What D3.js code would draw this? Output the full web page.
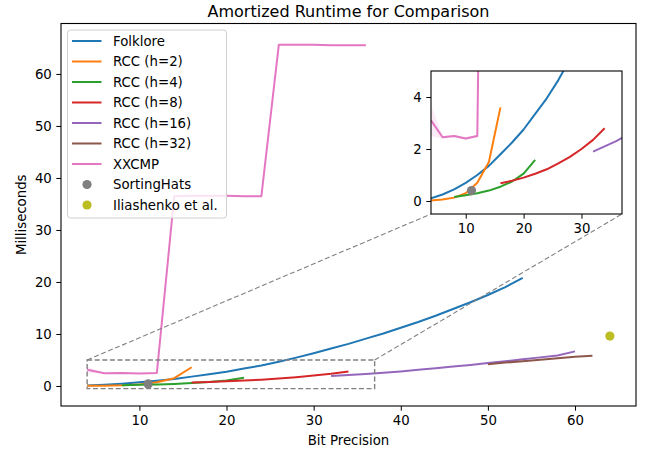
<!DOCTYPE html>
<html>
<head>
<meta charset="utf-8">
<script src="https://cdn.jsdelivr.net/npm/d3@7"></script>
<style>
  body { margin: 0; background: #fff; }
  text { font-family: "DejaVu Sans", sans-serif; fill: #000; }
</style>
</head>
<body>
<div id="chart"></div>
<script>
// ---- data ----
var folkloreX = [4, 6, 8, 10, 12, 14, 16, 18, 20, 22, 24, 26, 28, 30, 32, 34, 36, 38, 40, 42, 44, 46, 48, 50, 52, 54];
var folkloreY = [0.1, 0.25, 0.45, 0.7, 1.0, 1.35, 1.8, 2.25, 2.75, 3.35, 3.95, 4.65, 5.45, 6.3, 7.2, 8.1, 9.1, 10.1, 11.2, 12.3, 13.5, 14.8, 16.1, 17.5, 19.0, 20.8];

var rcc2X = [4, 6, 8, 10, 12, 14, 16];
var rcc2Y = [0.02, 0.06, 0.13, 0.3, 0.7, 1.5, 3.6];

var rcc4X = [8, 10, 12, 14, 16, 18, 20, 22];
var rcc4Y = [0.15, 0.22, 0.3, 0.4, 0.55, 0.75, 1.05, 1.58];

var rcc8X = [16, 18, 20, 22, 24, 26, 28, 30, 32, 34];
var rcc8Y = [0.68, 0.78, 0.9, 1.05, 1.22, 1.45, 1.7, 2.0, 2.35, 2.8];

var rcc16X = [32, 34, 36, 38, 40, 42, 44, 46, 48, 50, 52, 54, 56, 58, 60];
var rcc16Y = [1.9, 2.1, 2.3, 2.55, 2.8, 3.1, 3.4, 3.75, 4.05, 4.4, 4.75, 5.15, 5.5, 5.85, 6.65];

var rcc32X = [50, 52, 54, 56, 58, 60, 62];
var rcc32Y = [4.2, 4.5, 4.75, 5.05, 5.35, 5.6, 5.8];

var xxcmpX = [4, 6, 8, 10, 12, 14, 16, 18, 20, 22, 24, 26, 28, 30, 32, 34, 36];
var xxcmpY = [3.1, 2.45, 2.5, 2.4, 2.5, 36.5, 36.6, 36.6, 36.6, 36.5, 36.5, 65.6, 65.6, 65.6, 65.5, 65.5, 65.5];
// spread of the XXCMP runs (only visible at the first points)
var xxcmpErr = [0.6, 0.05, 0.05, 0.05, 0.05, 0.1, 0.1, 0.1, 0.1, 0.1, 0.1, 0.1, 0.1, 0.1, 0.1, 0.1, 0.1];

var sortingHats = [11, 0.4];
var iliashenko = [64, 9.6];

var mainXTicks = [10, 20, 30, 40, 50, 60];
var mainYTicks = [0, 10, 20, 30, 40, 50, 60];
var insetXTicks = [10, 20, 30];
var insetYTicks = [0, 2, 4];

var width = 649;
var height = 453;

function zipXY(xs, ys) {
  return xs.map(function(x, i) { return [x, ys[i]]; });
}

var series = [
  { name: "Folklore", color: "#1f77b4", pts: zipXY(folkloreX, folkloreY) },
  { name: "RCC (h=2)", color: "#ff7f0e", pts: zipXY(rcc2X, rcc2Y) },
  { name: "RCC (h=4)", color: "#2ca02c", pts: zipXY(rcc4X, rcc4Y) },
  { name: "RCC (h=8)", color: "#d62728", pts: zipXY(rcc8X, rcc8Y) },
  { name: "RCC (h=16)", color: "#9467bd", pts: zipXY(rcc16X, rcc16Y) },
  { name: "RCC (h=32)", color: "#8c564b", pts: zipXY(rcc32X, rcc32Y) },
  { name: "XXCMP", color: "#e377c2", pts: zipXY(xxcmpX, xxcmpY) }
];
var dots = [
  { name: "SortingHats", color: "#7f7f7f", pt: sortingHats },
  { name: "Iliashenko et al.", color: "#bcbd22", pt: iliashenko }
];

var svg = d3.select("#chart")
  .append("svg")
  .attr("width", width)
  .attr("height", height);

// main axes box
var plot = { left: 61, right: 636, top: 23.5, bottom: 406 };
var xScale = d3.scaleLinear().domain([1, 67]).range([plot.left, plot.right]);
var yScale = d3.scaleLinear().domain([-3.85, 69.7]).range([plot.bottom, plot.top]);

// inset axes box
var ins = { left: 431, right: 622, top: 71, bottom: 214 };
var ixScale = d3.scaleLinear().domain([4, 37]).range([ins.left, ins.right]);
var iyScale = d3.scaleLinear().domain([-0.5, 5]).range([ins.bottom, ins.top]);

var defs = svg.append("defs");
defs.append("clipPath").attr("id", "clipMain")
  .append("rect")
  .attr("x", plot.left).attr("y", plot.top)
  .attr("width", plot.right - plot.left).attr("height", plot.bottom - plot.top);
defs.append("clipPath").attr("id", "clipInset")
  .append("rect")
  .attr("x", ins.left).attr("y", ins.top)
  .attr("width", ins.right - ins.left).attr("height", ins.bottom - ins.top);

// draws all the series into a group with the given scales
function drawSeries(g, xs, ys) {
  var line = d3.line()
    .x(function(d) { return xs(d[0]); })
    .y(function(d) { return ys(d[1]); });

  var band = d3.area()
    .x(function(d, i) { return xs(xxcmpX[i]); })
    .y0(function(d, i) { return ys(xxcmpY[i] - xxcmpErr[i]); })
    .y1(function(d, i) { return ys(xxcmpY[i] + xxcmpErr[i]); });

  g.append("path")
    .datum(xxcmpX)
    .attr("d", band)
    .attr("fill", "#e377c2")
    .attr("fill-opacity", 0.15);

  series.forEach(function(s) {
    g.append("path")
      .datum(s.pts)
      .attr("d", line)
      .attr("fill", "none")
      .attr("stroke", s.color)
      .attr("stroke-width", 2)
      .attr("stroke-linejoin", "round");
  });

  dots.forEach(function(p) {
    g.append("circle")
      .attr("cx", xs(p.pt[0]))
      .attr("cy", ys(p.pt[1]))
      .attr("r", 4.6)
      .attr("fill", p.color);
  });
}

// axis helper: matplotlib-like ticks
function styleAxis(g) {
  g.selectAll("path.domain").remove();
  g.selectAll(".tick line").attr("stroke", "#000").attr("stroke-width", 1);
  g.selectAll(".tick text")
    .attr("font-size", "13.3px")
    .attr("font-family", "DejaVu Sans, sans-serif")
    .attr("fill", "#000");
}

///////////
// Main plot
///////////
var mainG = svg.append("g").attr("clip-path", "url(#clipMain)");
drawSeries(mainG, xScale, yScale);

// zoom rectangle + connectors
var dashStyle = "5,2.6";
svg.append("rect")
  .attr("x", xScale(4))
  .attr("y", yScale(5))
  .attr("width", xScale(37) - xScale(4))
  .attr("height", yScale(-0.5) - yScale(5))
  .attr("fill", "none")
  .attr("stroke", "#808080")
  .attr("stroke-width", 1.4)
  .attr("stroke-dasharray", dashStyle);

svg.append("line")
  .attr("x1", xScale(4)).attr("y1", yScale(5))
  .attr("x2", ins.left).attr("y2", ins.bottom)
  .attr("stroke", "#808080").attr("stroke-width", 1.1)
  .attr("stroke-dasharray", dashStyle);
svg.append("line")
  .attr("x1", xScale(37)).attr("y1", yScale(5))
  .attr("x2", ins.right).attr("y2", ins.bottom)
  .attr("stroke", "#808080").attr("stroke-width", 1.1)
  .attr("stroke-dasharray", dashStyle);

var xAxis = d3.axisBottom(xScale).tickValues(mainXTicks).tickSize(4.7).tickPadding(4.5);
var yAxis = d3.axisLeft(yScale).tickValues(mainYTicks).tickSize(4.7).tickPadding(4.5);

svg.append("g")
  .attr("transform", "translate(0," + plot.bottom + ")")
  .call(xAxis)
  .call(styleAxis);
svg.append("g")
  .attr("transform", "translate(" + plot.left + ",0)")
  .call(yAxis)
  .call(styleAxis);

svg.append("rect")
  .attr("x", plot.left).attr("y", plot.top)
  .attr("width", plot.right - plot.left).attr("height", plot.bottom - plot.top)
  .attr("fill", "none").attr("stroke", "#000").attr("stroke-width", 1.1);

// title and axis labels
svg.append("text")
  .attr("x", (plot.left + plot.right) / 2)
  .attr("y", 17)
  .attr("text-anchor", "middle")
  .attr("font-size", "16px")
  .text("Amortized Runtime for Comparison");

svg.append("text")
  .attr("x", (plot.left + plot.right) / 2)
  .attr("y", 445)
  .attr("text-anchor", "middle")
  .attr("font-size", "13.3px")
  .text("Bit Precision");

svg.append("text")
  .attr("transform", "translate(26," + (plot.top + plot.bottom) / 2 + ") rotate(-90)")
  .attr("text-anchor", "middle")
  .attr("font-size", "13.3px")
  .text("Milliseconds");

///////////
// Legend
///////////
var legend = svg.append("g");
legend.append("rect")
  .attr("x", 67.5).attr("y", 30)
  .attr("width", 159).attr("height", 188)
  .attr("rx", 3)
  .attr("fill", "#fff").attr("fill-opacity", 0.8)
  .attr("stroke", "#d0d0d0").attr("stroke-width", 1);

var entries = series.map(function(s) { return { name: s.name, color: s.color, kind: "line" }; })
  .concat(dots.map(function(p) { return { name: p.name, color: p.color, kind: "dot" }; }));

entries.forEach(function(e, i) {
  var ey = 41 + i * 20.5;
  if (e.kind === "line") {
    legend.append("line")
      .attr("x1", 72).attr("x2", 101.5)
      .attr("y1", ey).attr("y2", ey)
      .attr("stroke", e.color).attr("stroke-width", 2);
  } else {
    legend.append("circle")
      .attr("cx", 87).attr("cy", ey).attr("r", 4.6)
      .attr("fill", e.color);
  }
  legend.append("text")
    .attr("x", 113)
    .attr("y", ey + 4.8)
    .attr("font-size", "13.3px")
    .text(e.name);
});

///////////
// Inset
///////////
svg.append("rect")
  .attr("x", ins.left).attr("y", ins.top)
  .attr("width", ins.right - ins.left).attr("height", ins.bottom - ins.top)
  .attr("fill", "#fff");

var insetG = svg.append("g").attr("clip-path", "url(#clipInset)");
drawSeries(insetG, ixScale, iyScale);

svg.append("g")
  .attr("transform", "translate(0," + ins.bottom + ")")
  .call(d3.axisBottom(ixScale).tickValues(insetXTicks).tickFormat(d3.format("d")).tickSize(4.7).tickPadding(4.5))
  .call(styleAxis);
svg.append("g")
  .attr("transform", "translate(" + ins.left + ",0)")
  .call(d3.axisLeft(iyScale).tickValues(insetYTicks).tickFormat(d3.format("d")).tickSize(4.7).tickPadding(4.5))
  .call(styleAxis);

svg.append("rect")
  .attr("x", ins.left).attr("y", ins.top)
  .attr("width", ins.right - ins.left).attr("height", ins.bottom - ins.top)
  .attr("fill", "none").attr("stroke", "#000").attr("stroke-width", 1.1);
</script>
</body>
</html>
